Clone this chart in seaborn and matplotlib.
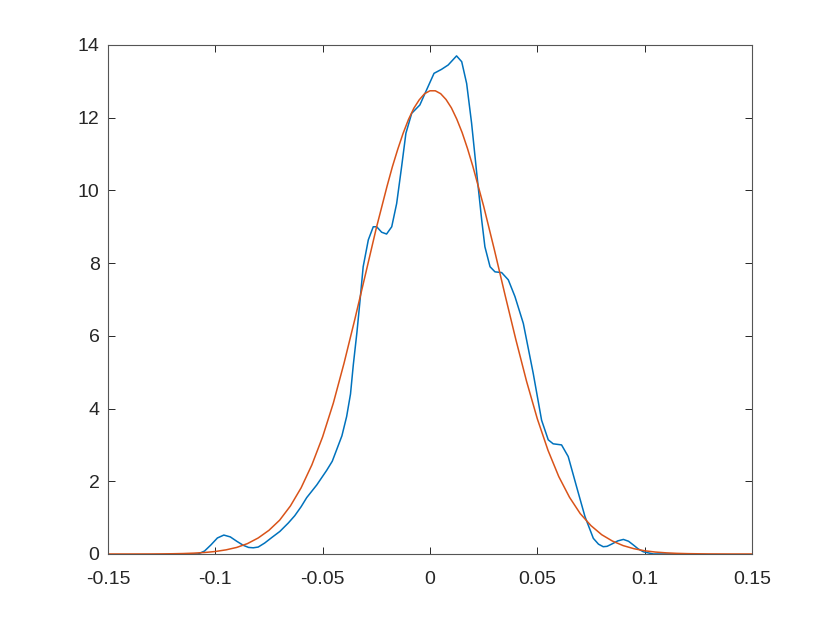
import numpy as np
import pandas as pd
import seaborn as sns
import matplotlib.pyplot as plt

# blue: kernel density estimate
kde_x = [-0.12, -0.108, -0.105, -0.102, -0.099, -0.096, -0.093, -0.09, -0.087, -0.0845,
         -0.0823, -0.080, -0.077, -0.0735, -0.0699, -0.066, -0.063, -0.060, -0.0574,
         -0.0527, -0.0481, -0.0455, -0.0435, -0.041, -0.0388, -0.037, -0.0357, -0.034,
         -0.0326, -0.0311, -0.0287, -0.0264, -0.0248, -0.0225, -0.0202, -0.0178, -0.0155,
         -0.0132, -0.0112, -0.0085, -0.0047, -0.0016, 0.0019, 0.0054, 0.0085, 0.0124,
         0.0148, 0.0171, 0.0194, 0.0218, 0.0241, 0.0256, 0.028, 0.0303, 0.0334, 0.0365,
         0.0396, 0.0435, 0.0481, 0.052, 0.0551, 0.0574, 0.0613, 0.0644, 0.0683, 0.0722,
         0.0761, 0.0785, 0.0807, 0.0825, 0.0846, 0.0875, 0.0901, 0.0925, 0.0947, 0.097,
         0.0994, 0.104, 0.12]
kde_y = [0, 0.0, 0.08, 0.25, 0.44, 0.52, 0.47, 0.35, 0.24, 0.18,
         0.17, 0.19, 0.3, 0.46, 0.62, 0.85, 1.05, 1.3, 1.55,
         1.9, 2.3, 2.55, 2.86, 3.25, 3.78, 4.4, 5.2, 6.1,
         6.95, 7.9, 8.64, 9.0, 9.0, 8.85, 8.8, 9.0, 9.64,
         10.65, 11.57, 12.12, 12.35, 12.76, 13.22, 13.33, 13.45, 13.7,
         13.54, 12.94, 11.85, 10.47, 9.19, 8.45, 7.9, 7.76, 7.74, 7.54,
         7.08, 6.34, 4.97, 3.68, 3.14, 3.03, 3.0, 2.68, 1.85, 1.03,
         0.43, 0.27, 0.2, 0.21, 0.27, 0.36, 0.4, 0.35, 0.25, 0.14,
         0.06, 0.0, 0]

# orange: fitted normal curve, finer steps near the peak
fit_x = np.round(np.concatenate([np.linspace(-0.15, -0.02, 27),
                                 np.linspace(-0.0175, 0.0175, 15),
                                 np.linspace(0.02, 0.15, 27)]), 4)
fit_y = [0, 0, 0, 0.0005, 0.001, 0.003, 0.006, 0.012, 0.023, 0.040,
         0.068, 0.113, 0.18, 0.285, 0.44, 0.65, 0.93, 1.32, 1.82, 2.45,
         3.22, 4.15, 5.25, 6.45, 7.7, 8.96, 10.11,
         10.65, 11.13, 11.57, 11.95, 12.26, 12.49, 12.66, 12.74, 12.74,
         12.66, 12.50, 12.27, 11.96, 11.59, 11.15,
         10.66, 9.57, 8.37, 7.12, 5.9, 4.75, 3.72,
         2.85, 2.13, 1.56, 1.11, 0.78, 0.53, 0.355, 0.23, 0.145, 0.088,
         0.053, 0.031, 0.017, 0.009, 0.005, 0.002, 0.001, 0, 0, 0]

x_ticks = [-0.15, -0.1, -0.05, 0, 0.05, 0.1, 0.15]
x_labels = ['-0.15', '-0.1', '-0.05', '0', '0.05', '0.1', '0.15']
y_ticks = [0, 2, 4, 6, 8, 10, 12, 14]

sns.set_style('white')
plt.rcParams['font.family'] = ['Liberation Sans', 'DejaVu Sans']

fig = plt.figure(figsize=(8.3, 6.23), dpi=100)
ax = fig.add_axes([0.13, 0.1108, 0.776, 0.817])

kde = pd.DataFrame({'x': kde_x, 'y': kde_y})
fit = pd.DataFrame({'x': fit_x, 'y': fit_y})
sns.lineplot(data=kde, x='x', y='y', color='#0072BD', linewidth=1.1, estimator=None, ax=ax)
sns.lineplot(data=fit, x='x', y='y', color='#D95319', linewidth=1.1, estimator=None, ax=ax)

ax.set_xlim(-0.15, 0.15)
ax.set_ylim(0, 14)
ax.set_xticks(x_ticks)
ax.set_xticklabels(x_labels)
ax.set_yticks(y_ticks)
ax.set_xlabel('')
ax.set_ylabel('')
ax.tick_params(direction='in', length=5, width=0.7, color='#262626',
               labelsize=14, labelcolor='#262626', top=True, right=True,
               bottom=True, left=True)
ax.tick_params(axis='x', pad=12)
ax.tick_params(axis='y', pad=6)
for s in ax.spines.values():
    s.set_visible(True)
    s.set_color('#555555')
    s.set_linewidth(0.8)

fig.savefig('out.png', dpi=100)
